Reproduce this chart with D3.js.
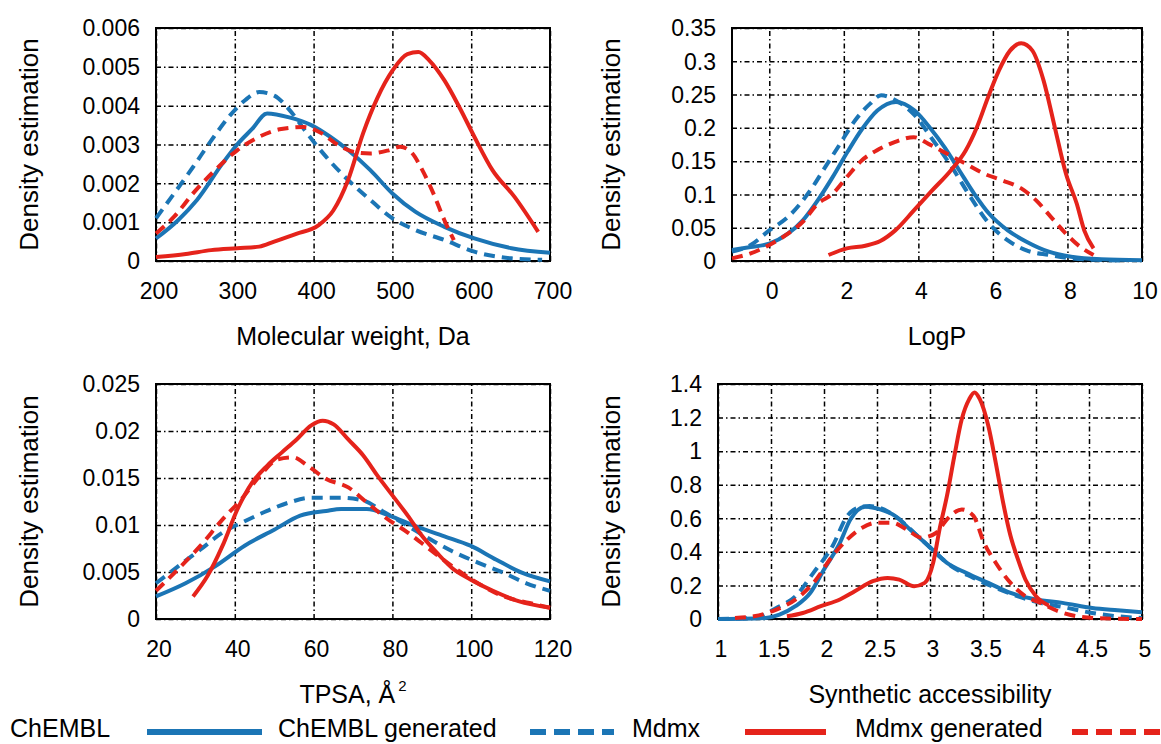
<!DOCTYPE html>
<html>
<head>
<meta charset="utf-8">
<script src="https://cdn.jsdelivr.net/npm/d3@7"></script>
<style>
  body { margin: 0; background: #fff; }
  text { font-family: "Liberation Sans", Arial, sans-serif; fill: #000; }
</style>
</head>
<body>
<svg id="svg" width="1161" height="744"></svg>
<script>
// legend / series names
const seriesNames = ['ChEMBL', 'ChEMBL generated', 'Mdmx', 'Mdmx generated'];

// axis titles
const xTitles = ['Molecular weight, Da', 'LogP', 'TPSA, Å', 'Synthetic accessibility'];

// tick values
const mwXTicks = [200, 300, 400, 500, 600, 700];
const mwYTicks = [0, 0.001, 0.002, 0.003, 0.004, 0.005, 0.006];
const logpXTicks = [0, 2, 4, 6, 8, 10];
const logpYTicks = [0, 0.05, 0.1, 0.15, 0.2, 0.25, 0.3, 0.35];
const tpsaXTicks = [20, 40, 60, 80, 100, 120];
const tpsaYTicks = [0, 0.005, 0.01, 0.015, 0.02, 0.025];
const saXTicks = [1, 1.5, 2, 2.5, 3, 3.5, 4, 4.5, 5];
const saYTicks = [0, 0.2, 0.4, 0.6, 0.8, 1, 1.2, 1.4];

// molecular weight densities
const mwChembl = [[200,0.00058],[228,0.00105],[252,0.00157],[284,0.0025],[303,0.003],[322,0.0034],[341,0.0038],[369,0.0037],[397,0.0035],[421,0.0032],[444,0.00285],[472,0.00234],[500,0.00174],[529,0.00127],[566,0.00088],[604,0.00058],[651,0.00033],[700,0.00021]];
const mwChemblGen = [[200,0.0011],[223,0.00174],[247,0.00242],[270,0.0031],[294,0.00375],[313,0.00414],[331,0.00435],[350,0.00426],[369,0.0039],[392,0.00328],[416,0.00268],[444,0.00208],[472,0.00157],[500,0.0011],[529,0.0008],[566,0.00054],[604,0.00024],[651,0.00007],[690,0.00003]];
const mwMdmx = [[200,0.0001],[238,0.00018],[270,0.00028],[303,0.00033],[331,0.00037],[350,0.0005],[378,0.0007],[406,0.00092],[425,0.0013],[444,0.0021],[463,0.0033],[481,0.0042],[500,0.0049],[519,0.00533],[533,0.00538],[547,0.00516],[566,0.00465],[585,0.00396],[604,0.0032],[627,0.00234],[655,0.00165],[685,0.00075]];
const mwMdmxGen = [[200,0.00071],[223,0.00114],[247,0.00174],[275,0.00234],[303,0.00285],[331,0.0032],[359,0.0034],[387,0.00345],[411,0.00328],[430,0.003],[453,0.0028],[472,0.00277],[495,0.00285],[510,0.00294],[524,0.0028],[538,0.00234],[552,0.00174],[566,0.00105],[578,0.00054]];

// logP densities
const logpChembl = [[-1,0.0165],[-0.5,0.021],[0,0.026],[0.5,0.041],[0.9,0.061],[1.3,0.091],[1.7,0.126],[2.1,0.164],[2.5,0.199],[2.9,0.226],[3.4,0.239],[3.9,0.226],[4.3,0.201],[4.7,0.171],[5.1,0.136],[5.5,0.101],[5.9,0.071],[6.4,0.046],[6.9,0.029],[7.5,0.014],[8.1,0.0065],[8.9,0.0025],[10,0.001]];
const logpChemblGen = [[-1,0.014],[-0.5,0.024],[0,0.046],[0.5,0.066],[1.1,0.106],[1.5,0.141],[1.9,0.176],[2.3,0.211],[2.7,0.236],[3.0,0.249],[3.4,0.241],[3.9,0.219],[4.4,0.181],[4.9,0.141],[5.4,0.096],[5.9,0.056],[6.4,0.031],[6.9,0.016],[7.5,0.009],[8.1,0.004],[8.9,0.0015],[9.6,0.0005]];
const logpMdmx = [[1.59,0.009],[2.08,0.019],[2.58,0.023],[2.98,0.03],[3.38,0.046],[3.88,0.076],[4.37,0.106],[4.87,0.136],[5.27,0.166],[5.57,0.201],[5.87,0.246],[6.16,0.286],[6.46,0.316],[6.76,0.327],[7.06,0.316],[7.36,0.271],[7.66,0.201],[7.96,0.131],[8.25,0.086],[8.45,0.046],[8.7,0.019]];
const logpMdmxGen = [[-1,0.004],[-0.5,0.0115],[0,0.024],[0.5,0.041],[0.9,0.059],[1.3,0.086],[1.7,0.101],[2.08,0.126],[2.48,0.151],[2.88,0.166],[3.38,0.179],[3.88,0.186],[4.27,0.176],[4.77,0.161],[5.27,0.146],[5.77,0.131],[6.26,0.121],[6.76,0.109],[7.16,0.091],[7.56,0.066],[7.96,0.041],[8.35,0.021],[8.7,0.009]];

// TPSA densities
const tpsaChembl = [[20,0.0024],[27.5,0.0038],[35,0.0056],[42.5,0.0078],[50,0.0095],[56.6,0.011],[63.2,0.0115],[67,0.0117],[73.5,0.0117],[79.2,0.011],[85.7,0.0099],[93.2,0.0088],[99.8,0.0078],[106.4,0.0063],[113,0.0049],[120,0.004]];
const tpsaChemblGen = [[20,0.0038],[25.6,0.0056],[31.3,0.0074],[36.9,0.0092],[42.5,0.0104],[48.2,0.0115],[53.8,0.0124],[59.4,0.0129],[67,0.0129],[72.6,0.0126],[78.2,0.0113],[83.9,0.0099],[89.5,0.0085],[95.2,0.0072],[101.7,0.006],[108.3,0.0049],[114,0.0038],[120,0.003]];
const tpsaMdmx = [[29.4,0.0024],[33.1,0.0046],[36.9,0.0078],[40.7,0.0117],[44.4,0.0145],[48.2,0.0163],[51.9,0.0177],[55.7,0.0191],[59.4,0.0206],[62.3,0.0211],[65.1,0.0207],[68.8,0.0191],[72.6,0.0174],[76.3,0.0152],[80.1,0.0131],[83.9,0.011],[87.6,0.0088],[91.4,0.007],[95.2,0.0054],[99.8,0.0042],[105.5,0.003],[112,0.0019],[120,0.0012]];
const tpsaMdmxGen = [[20,0.003],[25.6,0.0053],[31.3,0.0078],[36.9,0.0106],[41.6,0.0127],[46.3,0.0152],[51,0.017],[54.8,0.0172],[58.5,0.0163],[63.2,0.0149],[68.8,0.014],[73.5,0.0124],[78.2,0.0108],[83.9,0.0092],[89.5,0.0074],[95.2,0.0056],[101.7,0.0038],[108.3,0.0024],[114.8,0.0017],[120,0.0012]];

// synthetic accessibility densities
const saChembl = [[1,0],[1.23,0.001],[1.45,0.006],[1.58,0.026],[1.73,0.076],[1.87,0.155],[2.0,0.295],[2.15,0.454],[2.25,0.594],[2.39,0.669],[2.53,0.653],[2.67,0.614],[2.81,0.534],[2.99,0.434],[3.16,0.335],[3.34,0.275],[3.55,0.215],[3.76,0.155],[4.0,0.116],[4.25,0.096],[4.53,0.066],[4.77,0.052],[5,0.04]];
const saChemblGen = [[1,0],[1.34,0.006],[1.55,0.066],[1.73,0.135],[1.9,0.275],[2.08,0.434],[2.22,0.614],[2.32,0.663],[2.43,0.673],[2.67,0.614],[2.85,0.514],[3.02,0.414],[3.2,0.315],[3.41,0.245],[3.62,0.185],[3.83,0.135],[4.04,0.096],[4.25,0.072],[4.53,0.036],[4.77,0.016],[5,0.006]];
const saMdmx = [[1.65,0.016],[1.8,0.036],[1.97,0.076],[2.15,0.116],[2.29,0.165],[2.46,0.225],[2.6,0.245],[2.71,0.235],[2.85,0.195],[2.95,0.215],[3.03,0.335],[3.09,0.534],[3.16,0.733],[3.23,0.972],[3.3,1.191],[3.37,1.31],[3.42,1.35],[3.47,1.31],[3.55,1.151],[3.62,0.932],[3.69,0.693],[3.76,0.494],[3.83,0.355],[3.9,0.235],[4.0,0.135],[4.12,0.08]];
const saMdmxGen = [[1.16,0.006],[1.34,0.016],[1.55,0.056],[1.73,0.116],[1.9,0.215],[2.08,0.375],[2.22,0.474],[2.36,0.544],[2.5,0.574],[2.64,0.574],[2.78,0.534],[2.92,0.484],[3.06,0.514],[3.16,0.594],[3.3,0.653],[3.41,0.614],[3.51,0.454],[3.62,0.335],[3.76,0.215],[3.9,0.135],[4.04,0.096],[4.21,0.046],[4.39,0.016],[4.6,0.004],[5,0]];

(() => {
  const blue = '#1b75b5';
  const red = '#e5231b';
  const colors = [blue, blue, red, red];
  const dashed = [false, true, false, true];

  const svg = d3.select('#svg');
  const fmt = d => String(+d.toFixed(6));

  drawPanel({ left: 156, right: 550, top: 28, bottom: 261 }, [200, 700], [0, 0.006],
    mwXTicks, mwYTicks, [mwChembl, mwChemblGen, mwMdmx, mwMdmxGen], xTitles[0], false);
  drawPanel({ left: 732, right: 1142, top: 28, bottom: 261 }, [-1, 10], [0, 0.35],
    logpXTicks, logpYTicks, [logpChembl, logpChemblGen, logpMdmx, logpMdmxGen], xTitles[1], false);
  drawPanel({ left: 156, right: 550, top: 384, bottom: 619 }, [20, 120], [0, 0.025],
    tpsaXTicks, tpsaYTicks, [tpsaChembl, tpsaChemblGen, tpsaMdmx, tpsaMdmxGen], xTitles[2], true);
  drawPanel({ left: 718, right: 1142, top: 384, bottom: 619 }, [1, 5], [0, 1.4],
    saXTicks, saYTicks, [saChembl, saChemblGen, saMdmx, saMdmxGen], xTitles[3], false);

  drawLegend();

  function drawPanel(box, xDomain, yDomain, xTicks, yTicks, series, title, sup) {
    let xScale = d3.scaleLinear().domain(xDomain).range([box.left, box.right]);
    let yScale = d3.scaleLinear().domain(yDomain).range([box.bottom, box.top]);
    let g = svg.append('g');

    // grid
    g.append('g')
      .attr('transform', `translate(0, ${box.bottom})`)
      .call(d3.axisBottom(xScale).tickValues(xTicks).tickSize(-(box.bottom - box.top)).tickFormat(''))
      .call(a => a.select('.domain').remove())
      .selectAll('line')
      .attr('stroke', '#000')
      .attr('stroke-width', 1.5)
      .attr('stroke-dasharray', '5,3,1.5,3');
    g.append('g')
      .attr('transform', `translate(${box.left}, 0)`)
      .call(d3.axisLeft(yScale).tickValues(yTicks).tickSize(-(box.right - box.left)).tickFormat(''))
      .call(a => a.select('.domain').remove())
      .selectAll('line')
      .attr('stroke', '#000')
      .attr('stroke-width', 1.5)
      .attr('stroke-dasharray', '5,3,1.5,3');

    // frame
    g.append('rect')
      .attr('x', box.left)
      .attr('y', box.top)
      .attr('width', box.right - box.left)
      .attr('height', box.bottom - box.top)
      .attr('fill', 'none')
      .attr('stroke', '#000')
      .attr('stroke-width', 2);

    // tick labels
    g.selectAll('.xlab')
      .data(xTicks)
      .enter()
      .append('text')
      .attr('x', d => xScale(d) + 3)
      .attr('y', box.bottom + 38)
      .attr('text-anchor', 'middle')
      .attr('font-size', '23px')
      .text(fmt);
    g.selectAll('.ylab')
      .data(yTicks)
      .enter()
      .append('text')
      .attr('x', box.left - 16)
      .attr('y', d => yScale(d))
      .attr('dy', '0.36em')
      .attr('text-anchor', 'end')
      .attr('font-size', '23px')
      .text(fmt);

    // axis titles
    let t = g.append('text')
      .attr('x', (box.left + box.right) / 2)
      .attr('y', box.bottom + 84)
      .attr('text-anchor', 'middle')
      .attr('font-size', '25px')
      .text(title);
    if (sup) {
      t.append('tspan').attr('dy', -12).attr('dx', 3).attr('font-size', '15px').text('2');
    }
    g.append('text')
      .attr('transform', `translate(${box.left < 400 ? 38 : 620}, ${(box.top + box.bottom) / 2}) rotate(-90)`)
      .attr('text-anchor', 'middle')
      .attr('font-size', '26px')
      .text('Density estimation');

    // curves
    let line = d3.line()
      .x(d => xScale(d[0]))
      .y(d => yScale(d[1]))
      .curve(d3.curveMonotoneX);
    series.forEach((s, i) => {
      g.append('path')
        .attr('d', line(s))
        .attr('fill', 'none')
        .attr('stroke', colors[i])
        .attr('stroke-width', 4)
        .attr('stroke-dasharray', dashed[i] ? '11,7' : null);
    });
  }

  function drawLegend() {
    // text start, line start, line end
    let items = [
      [10, 147, 262],
      [278, 530, 614],
      [632, 745, 826],
      [855, 1072, 1160]
    ];
    let lg = svg.append('g');
    items.forEach((it, i) => {
      lg.append('text')
        .attr('x', it[0])
        .attr('y', 737)
        .attr('font-size', '25px')
        .text(seriesNames[i]);
      lg.append('line')
        .attr('x1', it[1])
        .attr('x2', it[2])
        .attr('y1', 732)
        .attr('y2', 732)
        .attr('stroke', colors[i])
        .attr('stroke-width', 6)
        .attr('stroke-dasharray', dashed[i] ? '16,8' : null);
    });
  }
})();
</script>
</body>
</html>
